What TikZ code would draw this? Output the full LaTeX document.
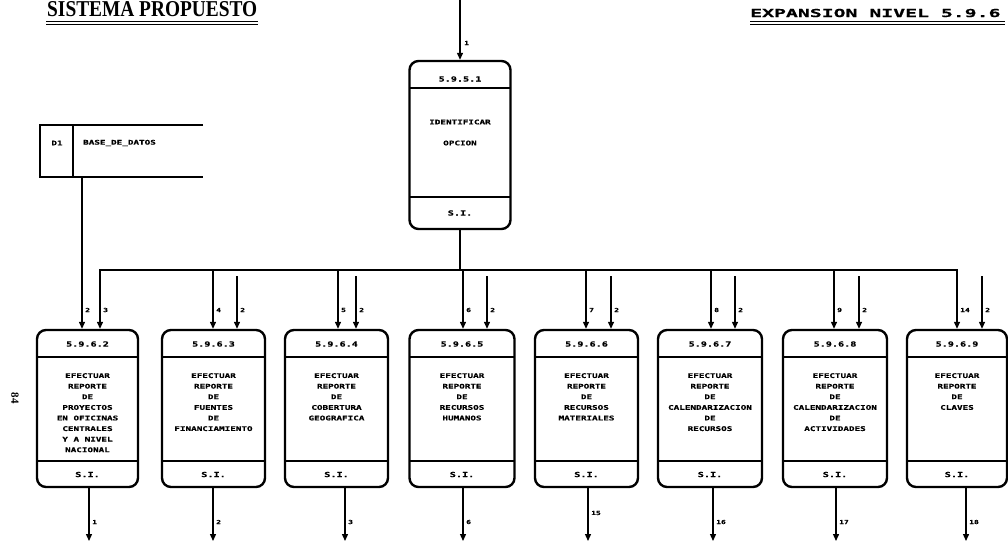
\documentclass[tikz,border=0pt]{standalone}
\usepackage{fontspec}
\usepackage{graphicx}
\usetikzlibrary{arrows.meta}
\newfontfamily\boxfont[FakeStretch=1.45, BoldFeatures={FakeStretch=1.45, FakeBold=0.6}]{DejaVu Sans Mono}
\newfontfamily\titlefontB[FakeStretch=1.8, BoldFeatures={FakeStretch=1.8, FakeBold=0.6}]{DejaVu Sans Mono}
\newfontfamily\serifB{Liberation Serif}
\tikzset{
  proc/.style={draw, line width=2.4pt, rounded corners=9pt, inner sep=0pt},
  divl/.style={line width=1.3pt},
  conn/.style={line width=1.3pt},
  arr/.style={conn, -{Triangle[length=7pt,width=6pt]}},
  numtxt/.style={font=\boxfont\bfseries\fontsize{7}{8}\selectfont, inner sep=0pt},
  bodytxt/.style={font=\boxfont\bfseries\fontsize{6.4}{10.6}\selectfont, align=center, inner sep=0pt},
  lbl/.style={font=\boxfont\bfseries\fontsize{5.5}{6}\selectfont, inner sep=0pt, anchor=west},
  uline/.style={line width=0.9pt},
}
% #1 name, #2 centre x, #3 width, #4 number, #5 body
\newcommand{\mkproc}[5]{%
  \node[proc, minimum width=#3pt, minimum height=157pt] (#1) at (#2,408.5) {};
  \draw[divl] ({#2-#3/2},357) -- ({#2+#3/2},357);
  \draw[divl] ({#2-#3/2},461) -- ({#2+#3/2},461);
  \node[numtxt] (#1-n) at (#2,344) {#4};
  \node[bodytxt, anchor=north] (#1-t) at (#2,373) {#5};
  \node[numtxt] (#1-s) at (#2,474.5) {S.I.};
}
\begin{document}
\begin{tikzpicture}[x=1pt,y=-1pt]
\useasboundingbox (0,0) rectangle (1008,542);
\fill[white] (0,0) rectangle (1008,542);

% titles
\node[anchor=base west, inner sep=0pt] (t1) at (47,16)
  {\resizebox{210pt}{15pt}{\serifB\bfseries SISTEMA PROPUESTO}};
\draw[uline] (46,21) -- (258,21);
\draw[uline] (46,24) -- (258,24);
\node[font=\titlefontB\bfseries\fontsize{11}{12}\selectfont, anchor=base west, inner sep=0pt] (t2) at (750,17) {EXPANSION NIVEL 5.9.6};
\draw[uline] (750,21) -- (1005,21);
\draw[uline] (750,24) -- (1005,24);
\node[font=\serifB\bfseries\fontsize{11}{12}\selectfont, rotate=-90, inner sep=0pt] (pg) at (15,398) {84};

% top process
\node[proc, minimum width=101pt, minimum height=168pt] (p0) at (460,145) {};
\draw[divl] (409.5,88) -- (510.5,88);
\draw[divl] (409.5,197) -- (510.5,197);
\node[numtxt] (p0-n) at (460,79) {5.9.5.1};
\node[bodytxt] (p0-t1) at (460,122) {IDENTIFICAR};
\node[bodytxt] (p0-t2) at (460,143) {OPCION};
\node[numtxt] (p0-s) at (460,213) {S.I.};
\coordinate (in0) at (460,0);
\draw[arr] (in0) -- (p0.north);
\node[lbl] (l0) at (464,43) {1};

% data store
\coordinate (dsA) at (203,125);
\coordinate (dsB) at (40,125);
\coordinate (dsC) at (40,177);
\coordinate (dsD) at (203,177);
\coordinate (dsE) at (73,125);
\coordinate (dsF) at (73,177);
\draw[line width=2pt] (dsA) -- (dsB) -- (dsC) -- (dsD);
\draw[line width=2pt] (dsE) -- (dsF);
\node[bodytxt] (d1) at (57,143) {D1};
\node[bodytxt, anchor=west] (dsname) at (83,143) {BASE\_DE\_DATOS};

% bottom processes
\mkproc{p1}{87.5}{101}{5.9.6.2}{EFECTUAR\\REPORTE\\DE\\PROYECTOS\\EN OFICINAS\\CENTRALES\\Y A NIVEL\\NACIONAL}
\mkproc{p2}{213.5}{103}{5.9.6.3}{EFECTUAR\\REPORTE\\DE\\FUENTES\\DE\\FINANCIAMIENTO}
\mkproc{p3}{336.5}{103}{5.9.6.4}{EFECTUAR\\REPORTE\\DE\\COBERTURA\\GEOGRAFICA}
\mkproc{p4}{462}{105}{5.9.6.5}{EFECTUAR\\REPORTE\\DE\\RECURSOS\\HUMANOS}
\mkproc{p5}{586.5}{103}{5.9.6.6}{EFECTUAR\\REPORTE\\DE\\RECURSOS\\MATERIALES}
\mkproc{p6}{710}{104}{5.9.6.7}{EFECTUAR\\REPORTE\\DE\\CALENDARIZACION\\DE\\RECURSOS}
\mkproc{p7}{835}{104}{5.9.6.8}{EFECTUAR\\REPORTE\\DE\\CALENDARIZACION\\DE\\ACTIVIDADES}
\mkproc{p8}{957}{100}{5.9.6.9}{EFECTUAR\\REPORTE\\DE\\CLAVES}

% bus
\coordinate (busL) at (100,270);
\coordinate (busR) at (957,270);
\coordinate (j0) at (460,270);
\draw[conn] (p0.south) -- (j0);
\draw[conn, {Triangle[length=7pt,width=6pt]}-{Triangle[length=7pt,width=6pt]}]
  (busL |- p1.north) -- (busL) -- (busR) -- (busR |- p8.north);

% data store to p1
\coordinate (dsout) at (82,177);
\draw[arr] (dsout) -- (dsout |- p1.north);

% bus drops
\coordinate (b2) at (213,270);
\coordinate (b3) at (338,270);
\coordinate (b4) at (463,270);
\coordinate (b5) at (586,270);
\coordinate (b6) at (711,270);
\coordinate (b7) at (834,270);
\draw[arr] (b2) -- (b2 |- p2.north);
\draw[arr] (b3) -- (b3 |- p3.north);
\draw[arr] (b4) -- (b4 |- p4.north);
\draw[arr] (b5) -- (b5 |- p5.north);
\draw[arr] (b6) -- (b6 |- p6.north);
\draw[arr] (b7) -- (b7 |- p7.north);

% second inputs
\coordinate (s2) at (237,276);
\coordinate (s3) at (356,276);
\coordinate (s4) at (487,276);
\coordinate (s5) at (611,276);
\coordinate (s6) at (735,276);
\coordinate (s7) at (859,276);
\coordinate (s8) at (982,276);
\foreach \i in {2,...,8}{\draw[arr] (s\i) -- (s\i |- p\i.north);}

% outputs
\coordinate (o1) at (89,541);
\coordinate (o2) at (213,541);
\coordinate (o3) at (345,541);
\coordinate (o4) at (463,541);
\coordinate (o5) at (588,541);
\coordinate (o6) at (713,541);
\coordinate (o7) at (836,541);
\coordinate (o8) at (966,541);
\foreach \i in {1,...,8}{\draw[arr] (o\i |- p\i.south) -- (o\i);}

% input labels
\node[lbl] (li1a) at (85,310) {2};
\node[lbl] (li1b) at (103,310) {3};
\node[lbl] (li2a) at (216,310) {4};
\node[lbl] (li2b) at (240,310) {2};
\node[lbl] (li3a) at (341,310) {5};
\node[lbl] (li3b) at (359,310) {2};
\node[lbl] (li4a) at (466,310) {6};
\node[lbl] (li4b) at (490,310) {2};
\node[lbl] (li5a) at (589,310) {7};
\node[lbl] (li5b) at (614,310) {2};
\node[lbl] (li6a) at (714,310) {8};
\node[lbl] (li6b) at (738,310) {2};
\node[lbl] (li7a) at (837,310) {9};
\node[lbl] (li7b) at (862,310) {2};
\node[lbl] (li8a) at (960,310) {14};
\node[lbl] (li8b) at (985,310) {2};

% output labels
\node[lbl] (lo1) at (92,522) {1};
\node[lbl] (lo2) at (216,522) {2};
\node[lbl] (lo3) at (348,522) {3};
\node[lbl] (lo4) at (466,522) {6};
\node[lbl] (lo5) at (591,513) {15};
\node[lbl] (lo6) at (716,522) {16};
\node[lbl] (lo7) at (839,522) {17};
\node[lbl] (lo8) at (969,522) {18};
\end{tikzpicture}
\end{document}
